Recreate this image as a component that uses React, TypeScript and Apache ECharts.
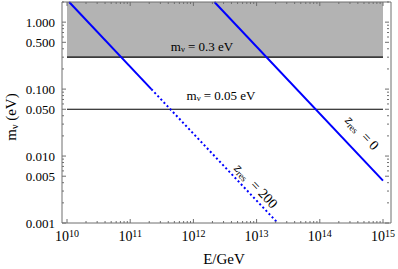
import React, { useEffect, useRef } from 'react';
import * as echarts from 'echarts';

const X_MIN = 1e10;
const X_MAX = 1e15;
const Y_MIN = 0.001;
const Y_MAX = 2;

const massBoundLevel = 0.3;
const massLowLevel = 0.05;
const zRes0Line = [[2.15e12, 2], [1e15, 0.0043]];
const zRes200Solid = [[1.08e10, 2], [2.16e11, 0.1]];
const zRes200Dotted = [[2.16e11, 0.1], [2.16e13, 0.001]];
const yLabelValues = [0.001, 0.005, 0.01, 0.05, 0.1, 0.5, 1];
const xDecades = [10, 11, 12, 13, 14];
const yDecades = [-3, -2, -1, 0];
const mantissas = [1, 2, 3, 4, 5, 6, 7, 8, 9];

const FONT = '"Liberation Serif", "DejaVu Serif", serif';
const TICK = '#6e6e6e';
const BLUE = '#0000ff';
const PAD_L = 5;
const PAD_R = 6;

const xTicks: number[][] = [];
xDecades.forEach((d) => mantissas.forEach((m) => xTicks.push([m * Math.pow(10, d), Y_MIN, m === 1 ? 1 : 0])));
xTicks.push([X_MAX, Y_MIN, 1]);
const yTicks: number[][] = [];
yDecades.forEach((d) =>
  mantissas.forEach((m) => {
    const v = parseFloat((m * Math.pow(10, d)).toPrecision(3));
    if (v <= Y_MAX) yTicks.push([X_MIN, v, m === 1 || m === 5 ? 1 : 0]);
  })
);

export default function App() {
  const ref = useRef<HTMLDivElement>(null);
  useEffect(() => {
    if (!ref.current) return;
    const chart = echarts.init(ref.current, null, { renderer: 'svg' });
    const rich = (size: number) => ({
      n: { fontFamily: FONT, fontSize: size, color: '#000' },
      i: { fontFamily: FONT, fontSize: size, fontStyle: 'italic', color: '#000' },
      s: { fontFamily: FONT, fontSize: size * 0.66, color: '#000', padding: [size * 0.5, 0, 0, 0] },
    });
    const angle = -Math.atan(66.5 / 63.4);
    chart.setOption({
      animation: false,
      grid: { left: 67, right: 13, top: 2, bottom: 46 },
      xAxis: {
        type: 'log',
        min: X_MIN,
        max: X_MAX,
        axisLine: { show: false },
        axisTick: { show: false },
        splitLine: { show: false },
        axisLabel: {
          margin: 5,
          formatter: (v: number) => `{b|10}{e|${Math.round(Math.log10(v))}}`,
          rich: {
            b: { fontFamily: FONT, fontSize: 14, color: '#000' },
            e: { fontFamily: FONT, fontSize: 10, color: '#000', padding: [0, 0, 7, 0] },
          },
        },
      },
      yAxis: {
        type: 'log',
        min: Y_MIN,
        max: Y_MAX,
        axisLine: { show: false },
        axisTick: { show: false },
        axisLabel: { show: false },
        splitLine: { show: false },
      },
      series: [
        {
          type: 'line',
          data: [[X_MIN, massBoundLevel], [X_MAX, massBoundLevel]],
          symbol: 'none',
          lineStyle: { color: '#000', width: 1.2 },
          z: 2,
          markArea: {
            silent: true,
            itemStyle: { color: '#b3b3b3' },
            data: [[{ coord: [X_MIN, massBoundLevel] }, { coord: [X_MAX, Y_MAX] }]],
          },
        },
        {
          type: 'line',
          data: [[X_MIN, massLowLevel], [X_MAX, massLowLevel]],
          symbol: 'none',
          lineStyle: { color: '#000', width: 1.2 },
          z: 3,
        },
        { type: 'line', data: zRes0Line, symbol: 'none', lineStyle: { color: BLUE, width: 2 }, z: 5 },
        { type: 'line', data: zRes200Solid, symbol: 'none', lineStyle: { color: BLUE, width: 2 }, z: 5 },
        {
          type: 'line',
          data: zRes200Dotted,
          symbol: 'none',
          lineStyle: { color: BLUE, width: 2, type: [2, 2.5] },
          z: 5,
        },
        {
          type: 'custom',
          coordinateSystem: 'cartesian2d',
          clip: false,
          silent: true,
          z: 8,
          encode: { x: 0, y: 1 },
          data: xTicks,
          renderItem: (params: any, api: any) => {
            const p = api.coord([api.value(0), Y_MIN]);
            const cs = params.coordSys;
            const len = api.value(2) ? 4 : 2;
            const b = cs.y + cs.height;
            const t = cs.y;
            return {
              type: 'group',
              children: [
                { type: 'line', shape: { x1: p[0], y1: b, x2: p[0], y2: b - len }, style: { stroke: TICK, lineWidth: 1 } },
                { type: 'line', shape: { x1: p[0], y1: t, x2: p[0], y2: t + len }, style: { stroke: TICK, lineWidth: 1 } },
              ],
            };
          },
        },
        {
          type: 'custom',
          coordinateSystem: 'cartesian2d',
          clip: false,
          silent: true,
          z: 8,
          encode: { x: 0, y: 1 },
          data: yTicks,
          renderItem: (params: any, api: any) => {
            const p = api.coord([X_MIN, api.value(1)]);
            const cs = params.coordSys;
            const len = api.value(2) ? 4 : 2;
            const l = cs.x - PAD_L;
            const r = cs.x + cs.width + PAD_R;
            return {
              type: 'group',
              children: [
                { type: 'line', shape: { x1: l, y1: p[1], x2: l + len, y2: p[1] }, style: { stroke: TICK, lineWidth: 1 } },
                { type: 'line', shape: { x1: r, y1: p[1], x2: r - len, y2: p[1] }, style: { stroke: TICK, lineWidth: 1 } },
              ],
            };
          },
        },
        {
          type: 'custom',
          coordinateSystem: 'cartesian2d',
          clip: false,
          silent: true,
          z: 8,
          encode: { x: 0, y: 1 },
          data: yLabelValues.map((v) => [X_MIN, v]),
          renderItem: (params: any, api: any) => {
            const v = api.value(1);
            const p = api.coord([X_MIN, v]);
            const cs = params.coordSys;
            return {
              type: 'text',
              x: cs.x - PAD_L - 7,
              y: p[1],
              style: {
                text: v.toFixed(3),
                align: 'right',
                verticalAlign: 'middle',
                fontFamily: FONT,
                fontSize: 13,
                fill: '#000',
              },
            };
          },
        },
      ],
      graphic: [
        {
          type: 'rect',
          silent: true,
          z: 9,
          shape: { x: 62, y: 2, width: 329, height: 221 },
          style: { fill: 'none', stroke: TICK, lineWidth: 1 },
        },
        {
          type: 'text',
          x: 11,
          y: 117,
          rotation: Math.PI / 2,
          style: {
            text: '{n|m}{s|ν}{n| (eV)}',
            rich: rich(15),
            align: 'center',
            verticalAlign: 'middle',
          },
        },
        {
          type: 'text',
          x: 224,
          y: 259,
          style: {
            text: 'E/GeV',
            fontFamily: FONT,
            fontSize: 15,
            fill: '#000',
            align: 'center',
            verticalAlign: 'middle',
          },
        },
        {
          type: 'text',
          x: 202,
          y: 46,
          z: 10,
          style: {
            text: '{n|m}{s|ν}{n| = 0.3 eV}',
            rich: rich(13),
            align: 'center',
            verticalAlign: 'middle',
          },
        },
        {
          type: 'text',
          x: 221,
          y: 95,
          z: 10,
          style: {
            text: '{n|m}{s|ν}{n| = 0.05 eV}',
            rich: rich(13),
            align: 'center',
            verticalAlign: 'middle',
          },
        },
        {
          type: 'text',
          x: 362,
          y: 133,
          rotation: angle,
          z: 10,
          style: {
            text: '{i|z}{s|res}{n|  = 0}',
            rich: rich(14),
            align: 'center',
            verticalAlign: 'middle',
          },
        },
        {
          type: 'text',
          x: 256,
          y: 186,
          rotation: angle,
          z: 10,
          style: {
            text: '{i|z}{s|res}{n|  = 200}',
            rich: rich(14),
            align: 'center',
            verticalAlign: 'middle',
          },
        },
      ],
    });
    return () => chart.dispose();
  }, []);
  return <div ref={ref} style={{ position: 'absolute', left: 0, top: 0, width: 398, height: 269 }} />;
}
